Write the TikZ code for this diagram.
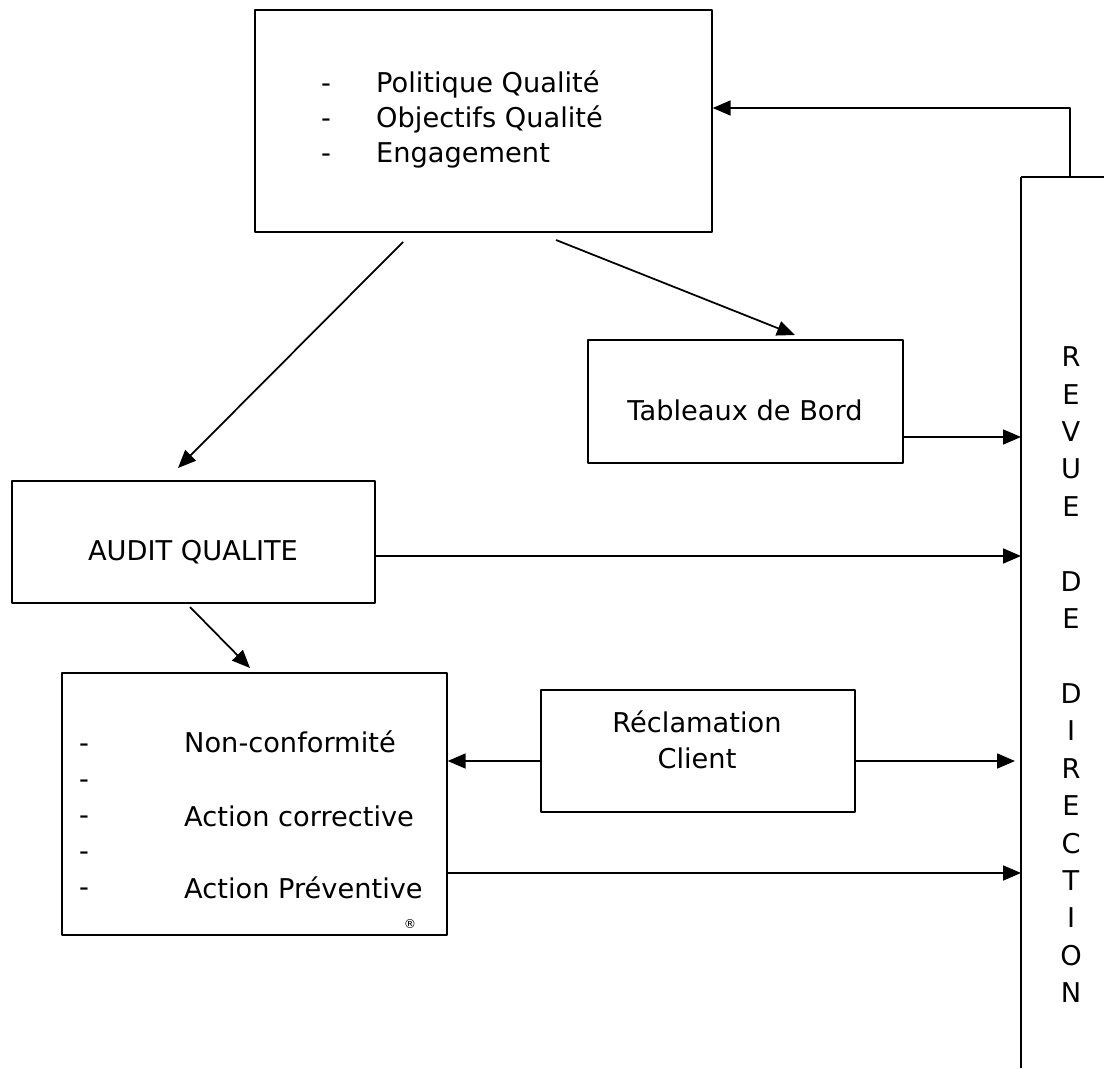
\documentclass[tikz,border=0pt]{standalone}
\usepackage{fontspec}
\setmainfont{DejaVu Sans}
\usetikzlibrary{arrows.meta}
\begin{document}
\begin{tikzpicture}[x=0.02cm, y=-0.02cm, font=\fontsize{15.5}{18}\selectfont, line join=round,
  box/.style={draw, line width=0.8pt, inner sep=0pt},
  trait/.style={line width=1pt},
  fleche/.style={line width=1pt, -{Triangle[length=0.36cm, width=0.3cm]}}]
\useasboundingbox (0,0) rectangle (1104,1068);
% boites
\node[box, minimum width=9.14cm, minimum height=4.44cm] (pol) at (483.5,121) {};
\node[box, minimum width=6.3cm, minimum height=2.46cm] (tab) at (745.5,401.5) {};
\node[box, minimum width=7.26cm, minimum height=2.44cm] (aud) at (193.5,542) {};
\node[box, minimum width=7.7cm, minimum height=5.24cm] (act) at (254.5,804) {};
\node[box, minimum width=6.28cm, minimum height=2.44cm] (rec) at (698,751) {};
% textes
\foreach \y/\t [count=\i] in {92/Politique Qualité,127/Objectifs Qualité,162/Engagement}{
  \node[anchor=base] (pt\i) at (326,\y) {-};
  \node[anchor=base west] (p\i) at (370,\y) {\t};
}
\node[anchor=base] (tabt) at (745,420) {Tableaux de Bord};
\node[anchor=base] (audt) at (193,560) {AUDIT QUALITE};
\node[anchor=base] (rec1) at (697,732) {Réclamation};
\node[anchor=base] (rec2) at (697,768) {Client};
\foreach \y [count=\i] in {752,788,824,860,896}
  \node[anchor=base] (at\i) at (84,\y) {-};
\node[anchor=base west] (a1) at (178,752) {Non-conformité};
\node[anchor=base west] (a2) at (178,826) {Action corrective};
\node[anchor=base west] (a3) at (178,898) {Action Préventive};
\node[font=\fontsize{7}{8}\selectfont] (reg) at (410,924) {®};
% revue de direction
\coordinate (revT) at (1021,177);
\coordinate (revB) at (1021,1068);
\coordinate (revTR) at (1104,177);
\draw[trait] (revT) -- (revB) (revT) -- (revTR);
\foreach \k/\l in {0/R,1/E,2/V,3/U,4/E,6/D,7/E,9/D,10/I,11/R,12/E,13/C,14/T,15/I,16/O,17/N}
  \node (r\k) at (1071,357+37.4*\k) {\l};
% retour vers la politique
\coordinate (retour) at (1070,177);
\coordinate (coude) at (1070,108);
\draw[fleche] (retour) -- (coude) -- (coude -| pol.east);
% fleches
\coordinate (d1a) at (403,242);
\coordinate (d1b) at (178,468);
\coordinate (d2a) at (556,240);
\coordinate (d2b) at (795,335);
\coordinate (d3a) at (190,607);
\coordinate (d3b) at (250,668);
\draw[fleche] (d1a) -- (d1b);
\draw[fleche] (d2a) -- (d2b);
\draw[fleche] (d3a) -- (d3b);
\draw[fleche] ([yshift=-0.71cm]tab.east) coordinate (t1) -- (t1 -| revT);
\draw[fleche] ([yshift=-0.28cm]aud.east) coordinate (t2) -- (t2 -| revT);
\draw[fleche, shorten >=0.12cm] ([yshift=-0.2cm]rec.east) coordinate (t3) -- (t3 -| revT);
\draw[fleche] ([yshift=-0.2cm]rec.west) coordinate (t4) -- (t4 -| act.east);
\draw[fleche] ([yshift=-1.38cm]act.east) coordinate (t5) -- (t5 -| revT);
\end{tikzpicture}
\end{document}
